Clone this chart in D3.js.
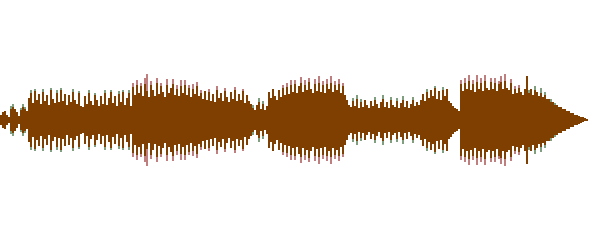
<!DOCTYPE html>
<html>
<head>
<meta charset="utf-8">
<script src="https://cdn.jsdelivr.net/npm/d3@7"></script>
<style>
  html, body { margin: 0; padding: 0; background: #ffffff; }
  svg { display: block; }
</style>
</head>
<body>
<svg id="chart" width="600" height="240"></svg>
<script>
// Right channel (green) amplitude per column
const rightChannel = [
  5,8,9,5,3,14,16,11,8,4,
  12,16,13,9,22,30,17,31,20,26,
  16,31,19,25,15,32,21,17,30,18,
  32,19,26,15,25,18,31,20,16,29,
  14,13,24,16,30,19,15,27,20,14,
  24,16,30,15,22,30,17,24,14,29,
  18,30,15,22,30,14,33,25,35,27,
  34,24,36,29,23,35,30,24,37,26,
  34,28,23,35,27,32,36,25,31,24,
  34,27,35,25,32,23,31,26,34,24,
  27,21,29,20,28,19,26,18,30,22,
  27,19,29,23,18,28,21,30,19,26,
  20,29,17,25,19,16,15,10,15,22,
  11,19,10,14,28,22,31,24,20,30,
  23,32,25,33,26,35,28,36,27,34,
  37,28,35,30,38,31,27,36,29,37,
  28,35,27,36,31,37,28,35,30,36,
  27,34,25,20,15,13,22,14,25,12,
  21,13,20,15,12,19,14,23,16,12,
  18,25,13,18,12,23,15,13,22,12,
  17,24,13,19,12,16,23,14,18,15,
  20,26,19,31,22,30,24,34,21,29,
  20,33,24,31,19,17,14,12,11,9,
  36,29,37,31,39,30,36,28,38,31,
  37,29,39,32,30,38,31,37,29,36,
  38,31,39,32,30,37,26,31,27,32,
  28,25,31,44,30,31,25,34,28,24,
  32,23,28,21,21,21,18,17,15,13,
  13,11,11,9,9,7,7,5,5,4,
  3,2.5,1.5,1
];

// Left channel (red) amplitude per column
const leftChannel = [
  5,8,9,5,3,11,13,11,8,4,
  10,13,11,9,22,27,17,29,20,26,
  16,28,19,25,15,30,21,17,27,18,
  30,19,26,15,25,18,28,20,16,27,
  14,13,24,16,27,19,15,25,20,14,
  24,16,27,15,22,28,17,24,14,26,
  18,28,15,22,27,14,37,25,40,27,
  37,24,42,46,23,39,30,24,42,26,
  37,28,23,41,27,32,41,25,35,24,
  40,27,40,25,35,23,36,26,38,24,
  30,21,29,20,31,19,26,18,34,22,
  27,19,32,23,18,28,21,33,19,26,
  20,31,17,25,19,16,12,10,15,18,
  11,16,10,14,28,22,31,24,20,30,
  23,35,25,37,26,40,28,40,27,34,
  43,28,40,30,42,31,27,41,29,44,
  28,39,27,41,31,44,28,39,30,41,
  27,37,25,20,15,13,19,14,21,12,
  18,13,20,15,12,19,14,20,16,12,
  18,21,13,18,12,20,15,13,19,12,
  17,20,13,19,12,16,20,14,18,15,
  20,26,19,28,22,30,24,32,21,29,
  20,30,24,31,19,17,14,12,11,9,
  40,29,42,31,45,30,40,28,45,31,
  42,29,45,32,30,42,31,42,29,39,
  44,31,46,32,30,41,26,34,27,35,
  28,25,31,44,27,31,25,30,28,24,
  27,23,25,21,21,18,18,15,15,13,
  13,11,11,9,9,7,7,5,5,4,
  3,2.5,1.5,1
];

const colors = { right: "#7f9f7f", left: "#bf7f7f", both: "#7f3f00" };

const svg = d3.select("#chart");
const idx = d3.range(leftChannel.length);

const x = d3.scaleBand().domain(idx).range([0, 588]).padding(0);
const y = d3.scaleLinear().domain([-60, 60]).range([179.5, 59.5]);

function layer(values, color) {
  svg.append("g")
    .attr("shape-rendering", "crispEdges")
    .selectAll("rect")
    .data(values)
    .join("rect")
    .attr("x", (d, i) => x(i))
    .attr("width", x.bandwidth())
    .attr("y", d => y(d))
    .attr("height", d => y(-d) - y(d))
    .attr("fill", color);
}

layer(rightChannel, colors.right);
layer(leftChannel, colors.left);
layer(idx.map(i => Math.min(leftChannel[i], rightChannel[i])), colors.both);
</script>
</body>
</html>
